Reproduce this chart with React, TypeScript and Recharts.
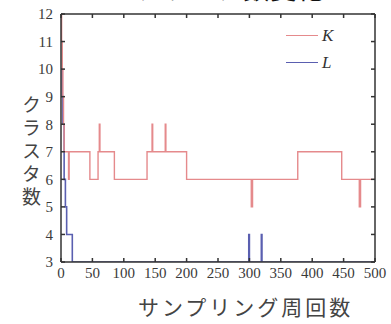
import React from "react";
import { LineChart, Line, XAxis, YAxis } from "recharts";

// K (cluster count) step changes: sample index -> value
const kSteps = [0, 1, 2, 3, 4, 5, 12, 13, 46, 59, 61, 62, 85, 137, 145, 146, 166, 167, 200, 303, 305, 377, 447, 475, 477, 500];
const kValues = [12, 11, 10, 9, 8, 7, 6, 7, 6, 7, 8, 7, 6, 7, 8, 7, 8, 7, 6, 5, 6, 7, 6, 5, 6, 6];

// L step changes
const lSteps = [0, 2, 3, 5, 7, 9, 18, 299, 300, 319, 320, 500];
const lValues = [10, 9, 8, 6, 5, 4, 3, 4, 3, 4, 3, 3];

const xTicks = [0, 50, 100, 150, 200, 250, 300, 350, 400, 450, 500];
const yTicks = [3, 4, 5, 6, 7, 8, 9, 10, 11, 12];

const kData = kSteps.map((t, i) => ({ t, v: kValues[i] }));
const lData = lSteps.map((t, i) => ({ t, v: lValues[i] }));

const FRAME = "#333";
const RED = "#e58a8c";
const BLUE = "#5a5fb0";
const serif = "'Liberation Serif', 'DejaVu Serif', serif";
const jp = "'Noto Sans CJK JP', sans-serif";

const NoLabel = () => <g />;

export default function App() {
  return (
    <div style={{ position: "absolute", left: 0, top: 0, width: 391, height: 324, background: "#fff", overflow: "hidden" }}>
      {/* title, cut off at the top edge */}
      <div
        style={{
          position: "absolute",
          left: 0,
          width: 460,
          top: -31,
          textAlign: "center",
          fontFamily: jp,
          fontSize: 26,
          color: "#111",
          letterSpacing: 1,
        }}
      >
        クラスタ数変化
      </div>

      <LineChart width={391} height={324} data={kData} margin={{ top: 13, right: 15, bottom: 32, left: 31 }}>
        <XAxis
          xAxisId="b"
          dataKey="t"
          type="number"
          domain={[0, 500]}
          ticks={xTicks}
          orientation="bottom"
          height={30}
          stroke={FRAME}
          strokeWidth={1.5}
          tickSize={-4}
          tickMargin={9}
          tick={{ fill: "#3a3a3a", fontSize: 15, fontFamily: serif }}
          interval={0}
          allowDataOverflow
        />
        <XAxis
          xAxisId="t"
          dataKey="t"
          type="number"
          domain={[0, 500]}
          ticks={xTicks}
          orientation="top"
          height={1}
          stroke={FRAME}
          strokeWidth={1.5}
          tickSize={-4}
          tick={NoLabel}
          interval={0}
          allowDataOverflow
        />
        <YAxis
          yAxisId="l"
          type="number"
          domain={[3, 12]}
          ticks={yTicks}
          orientation="left"
          width={30}
          stroke={FRAME}
          strokeWidth={1.5}
          tickSize={-4}
          tickMargin={12}
          tick={{ fill: "#3a3a3a", fontSize: 15, fontFamily: serif }}
          interval={0}
          allowDataOverflow
        />
        <YAxis
          yAxisId="r"
          type="number"
          domain={[3, 12]}
          ticks={yTicks}
          orientation="right"
          width={1}
          stroke={FRAME}
          strokeWidth={1.5}
          tickSize={-4}
          tick={NoLabel}
          interval={0}
          allowDataOverflow
        />
        {/* hidden series so the top/right frame axes get drawn */}
        <Line
          xAxisId="t"
          yAxisId="r"
          data={kData}
          dataKey="v"
          stroke="none"
          dot={false}
          legendType="none"
          isAnimationActive={false}
        />
        <Line
          xAxisId="b"
          yAxisId="l"
          data={lData}
          dataKey="v"
          type="stepAfter"
          stroke={BLUE}
          strokeWidth={1.6}
          dot={false}
          isAnimationActive={false}
        />
        <Line
          xAxisId="b"
          yAxisId="l"
          data={kData}
          dataKey="v"
          type="stepAfter"
          stroke={RED}
          strokeWidth={1.4}
          dot={false}
          isAnimationActive={false}
        />
      </LineChart>

      {/* legend */}
      <div style={{ position: "absolute", left: 286, top: 22, fontFamily: serif, fontStyle: "italic", fontSize: 17, color: "#333" }}>
        {[
          { name: "K", color: RED },
          { name: "L", color: BLUE },
        ].map((s) => (
          <div key={s.name} style={{ display: "flex", alignItems: "center", height: 27 }}>
            <div style={{ width: 32, height: 1.5, background: s.color, marginRight: 4 }} />
            <span>{s.name}</span>
          </div>
        ))}
      </div>

      {/* vertical y label */}
      <div
        style={{
          position: "absolute",
          left: 19,
          top: 95,
          writingMode: "vertical-rl",
          fontFamily: jp,
          fontSize: 19,
          color: "#444",
          letterSpacing: 4,
          lineHeight: "24px",
        }}
      >
        クラスタ数
      </div>

      {/* x label */}
      <div style={{ position: "absolute", left: 138, top: 291, fontFamily: jp, fontSize: 21, color: "#444", letterSpacing: 3 }}>
        サンプリング周回数
      </div>
    </div>
  );
}
